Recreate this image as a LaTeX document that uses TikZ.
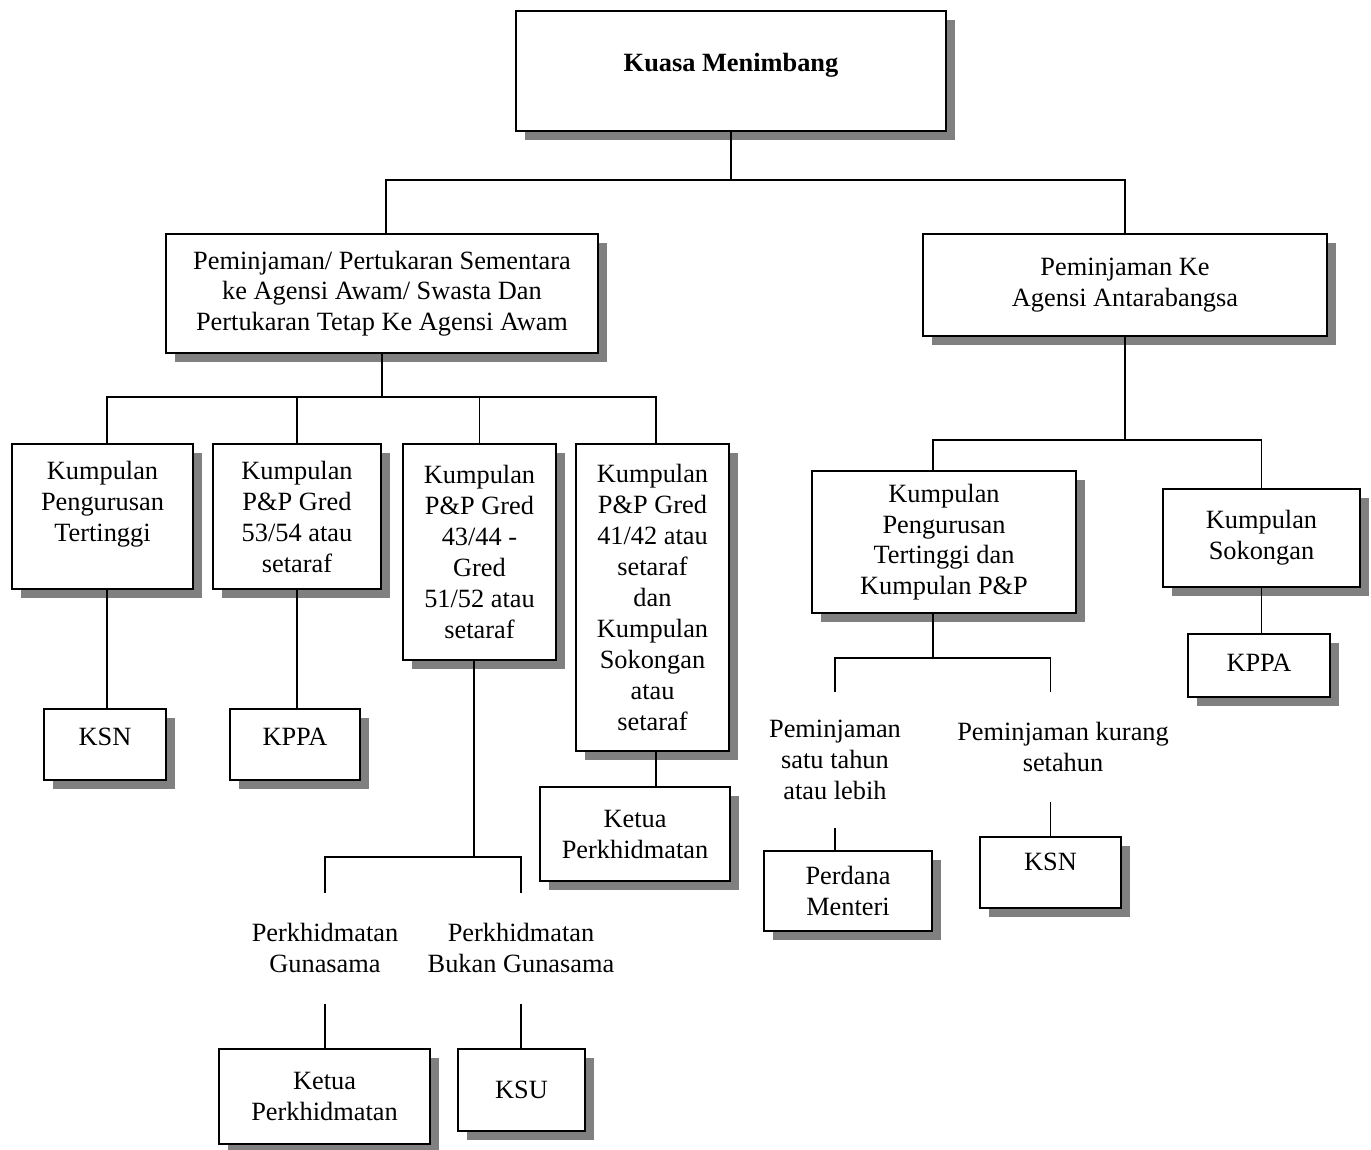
\documentclass[tikz,border=0pt]{standalone}
\usepackage{fontspec}
\setmainfont{Liberation Serif}
\usepackage{tikz}
\usetikzlibrary{shadows}
\tikzset{
    orgbox/.style = {
        draw=black,
        fill=white,
        line width=1.3pt,
        align=center,
        anchor=north,
        inner sep=0pt,
        drop shadow={shadow xshift=0.18cm, shadow yshift=-0.18cm, fill=black!50, opacity=1}
    },
    orglabel/.style = {
        align=center,
        anchor=north,
        inner sep=0pt
    },
    orgline/.style = {
        draw=black,
        line width=1pt
    }
}

\begin{document}
\fontsize{15}{17.6}\selectfont
\begin{tikzpicture}[x=0.02cm, y=-0.02cm]
            \useasboundingbox[fill=white] (0,0) rectangle (1371,1149);
            \node [orgbox, font=\bfseries, text depth=0.35cm, minimum width=8.6cm, minimum height=2.4cm] (kuasa) at (731,10) {Kuasa Menimbang};
            \node [orgbox, minimum width=8.64cm, minimum height=2.38cm] (pinjaman) at (382,233)
                {Peminjaman/ Pertukaran Sementara\\ke Agensi Awam/ Swasta Dan\\Pertukaran Tetap Ke Agensi Awam};
            \node [orgbox, minimum width=8.08cm, minimum height=2.04cm] (antara) at (1125,233)
                {Peminjaman Ke\\Agensi Antarabangsa};

            \node [orgbox, minimum width=3.62cm, minimum height=2.9cm] (kpt) at (102.5,443)
                {Kumpulan\\Pengurusan\\Tertinggi\\\mbox{}};
            \node [orgbox, minimum width=3.36cm, minimum height=2.9cm] (gred53) at (297,443)
                {Kumpulan\\P\&P Gred\\53/54 atau\\setaraf};
            \node [orgbox, minimum width=3.06cm, minimum height=4.32cm] (gred43) at (479.5,443)
                {Kumpulan\\P\&P Gred\\43/44 -\\Gred\\51/52 atau\\setaraf};
            \node [orgbox, minimum width=3.06cm, minimum height=6.14cm] (gred41) at (652.5,443)
                {Kumpulan\\P\&P Gred\\41/42 atau\\setaraf\\dan\\Kumpulan\\Sokongan\\atau\\setaraf};

            \node [orgbox, text depth=0.32cm, minimum width=2.44cm, minimum height=1.42cm] (ksnkiri) at (105,708) {KSN};
            \node [orgbox, text depth=0.32cm, minimum width=2.6cm, minimum height=1.42cm] (kppakiri) at (295,708) {KPPA};
            \node [orgbox, minimum width=3.8cm, minimum height=1.88cm] (ketuakanan) at (635,786)
                {Ketua\\Perkhidmatan};

            \node [orglabel, minimum height=2.2cm] (gunasama) at (325,893) {Perkhidmatan\\Gunasama};
            \node [orglabel, minimum height=2.2cm] (bukan) at (521,893) {Perkhidmatan\\Bukan Gunasama};
            \node [orgbox, minimum width=4.22cm, minimum height=1.9cm] (ketuabawah) at (324.5,1048)
                {Ketua\\Perkhidmatan};
            \node [orgbox, minimum width=2.54cm, minimum height=1.64cm] (ksu) at (521.5,1048) {KSU};

            \node [orgbox, minimum width=5.28cm, minimum height=2.84cm] (kptpp) at (944,470)
                {Kumpulan\\Pengurusan\\Tertinggi dan\\Kumpulan P\&P};
            \node [orgbox, minimum width=3.94cm, minimum height=1.96cm] (sokongan) at (1261.5,488)
                {Kumpulan\\Sokongan};
            \node [orgbox, text depth=0.12cm, minimum width=2.84cm, minimum height=1.26cm] (kppakanan) at (1259,633) {KPPA};

            \node [orglabel, minimum height=2.7cm] (satu) at (835,692) {Peminjaman\\satu tahun\\atau lebih};
            \node [orglabel, minimum height=2.18cm] (kurang) at (1063,692) {Peminjaman kurang\\setahun};
            \node [orgbox, minimum width=3.36cm, minimum height=1.6cm] (perdana) at (848,850)
                {Perdana\\Menteri};
            \node [orgbox, text depth=0.44cm, minimum width=2.82cm, minimum height=1.42cm] (ksnkanan) at (1050.5,836) {KSN};

            \coordinate (bar1) at (0,180);
            \coordinate (bar2) at (0,397);
            \coordinate (bar3) at (0,857);
            \coordinate (bar4) at (0,440);
            \coordinate (bar5) at (0,658);

            \draw [orgline] (kuasa.south) -- (kuasa.south |- bar1);
            \draw [orgline] ([xshift=0.08cm]pinjaman.north) |- (antara.north |- bar1) -- (antara.north);

            \draw [orgline] (pinjaman.south) -- (pinjaman.south |- bar2);
            \draw [orgline] ([xshift=0.09cm]kpt.north) |- ([xshift=0.07cm]gred41.north |- bar2) -- ([xshift=0.07cm]gred41.north);
            \draw [orgline] (gred53.north) -- (gred53.north |- bar2);
            \draw [orgline] (gred43.north) -- (gred43.north |- bar2);

            \draw [orgline] ([xshift=0.09cm]kpt.south) -- ([xshift=0.09cm]kpt.south |- ksnkiri.north);
            \draw [orgline] (gred53.south) -- (gred53.south |- kppakiri.north);
            \draw [orgline] ([xshift=0.07cm]gred41.south) -- ([xshift=0.07cm]gred41.south |- ketuakanan.north);
            \draw [orgline] ([xshift=-0.11cm]gred43.south) -- ([xshift=-0.11cm]gred43.south |- bar3);
            \draw [orgline] (gunasama.north) |- (bukan.north |- bar3) -- (bukan.north);
            \draw [orgline] (gunasama.south) -- (gunasama.south |- ketuabawah.north);
            \draw [orgline] (bukan.south) -- (bukan.south |- ksu.north);

            \draw [orgline] (antara.south) -- (antara.south |- bar4);
            \draw [orgline] ([xshift=-0.22cm]kptpp.north) |- (sokongan.north |- bar4) -- (sokongan.north);
            \draw [orgline] (sokongan.south) -- (sokongan.south |- kppakanan.north);
            \draw [orgline] ([xshift=-0.22cm]kptpp.south) -- ([xshift=-0.22cm]kptpp.south |- bar5);
            \draw [orgline] (satu.north) |- (ksnkanan.north |- bar5) -- (ksnkanan.north |- kurang.north);
            \draw [orgline] (satu.south) -- (satu.south |- perdana.north);
            \draw [orgline] (ksnkanan.north) -- (ksnkanan.north |- kurang.south);
        \end{tikzpicture}
\end{document}
